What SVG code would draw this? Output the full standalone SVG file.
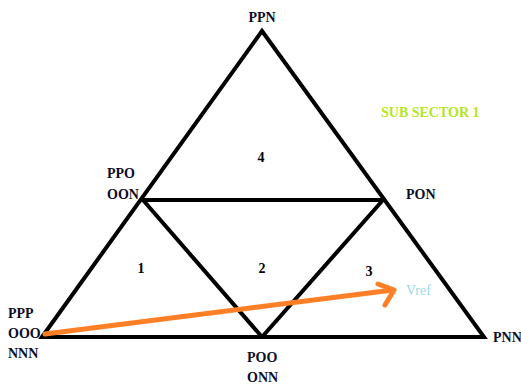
<svg xmlns="http://www.w3.org/2000/svg" width="521" height="387" viewBox="0 0 521 387">
<style>
.edge{stroke:#000;stroke-width:4;fill:none;stroke-linecap:round;stroke-linejoin:miter}
.lbl{font-family:"Liberation Serif","Times New Roman",serif;font-weight:bold;font-size:14px;fill:#0d0d26}
.num{font-family:"Liberation Serif","Times New Roman",serif;font-weight:bold;font-size:14px;fill:#000}
.vec{stroke:#ff7f27;stroke-width:5;fill:none;stroke-linecap:round;stroke-linejoin:round}
</style>
<rect width="521" height="387" fill="#fff"/>
<g id="connectors">
<path class="edge" d="M42,337 L262,31 L484,337 Z"/>
<line class="edge" x1="143" y1="200" x2="383" y2="200"/>
<line class="edge" x1="143" y1="200" x2="262" y2="337"/>
<line class="edge" x1="383" y1="200" x2="262" y2="337"/>
<g id="vref-arrow">
<line class="vec" x1="45" y1="334" x2="393" y2="290"/>
<polyline class="vec" points="378,284 394,290 385,305"/>
</g>
</g>
<g id="node-PPN"><text class="lbl" x="262" y="22" text-anchor="middle">PPN</text></g>
<g id="node-PPO"><text class="lbl" x="107" y="178">PPO</text><text class="lbl" x="107" y="199">OON</text></g>
<g id="node-PON"><text class="lbl" x="406" y="199">PON</text></g>
<g id="node-PPP"><text class="lbl" x="8" y="318">PPP</text><text class="lbl" x="8" y="338">OOO</text><text class="lbl" x="8" y="358">NNN</text></g>
<g id="node-POO"><text class="lbl" x="247" y="362">POO</text><text class="lbl" x="247" y="382">ONN</text></g>
<g id="node-PNN"><text class="lbl" x="493" y="342">PNN</text></g>
<g id="regions">
<text class="num" x="261" y="162" text-anchor="middle">4</text>
<text class="num" x="141" y="273" text-anchor="middle">1</text>
<text class="num" x="262" y="273" text-anchor="middle">2</text>
<text class="num" x="369" y="276" text-anchor="middle">3</text>
</g>
<text x="381" y="117" font-family="'Liberation Serif','Times New Roman',serif" font-weight="bold" font-size="14" fill="#b5e61d">SUB SECTOR 1</text>
<text x="406" y="295" font-family="'Liberation Serif','Times New Roman',serif" font-size="14" fill="#99d9ea">Vref</text>
</svg>
